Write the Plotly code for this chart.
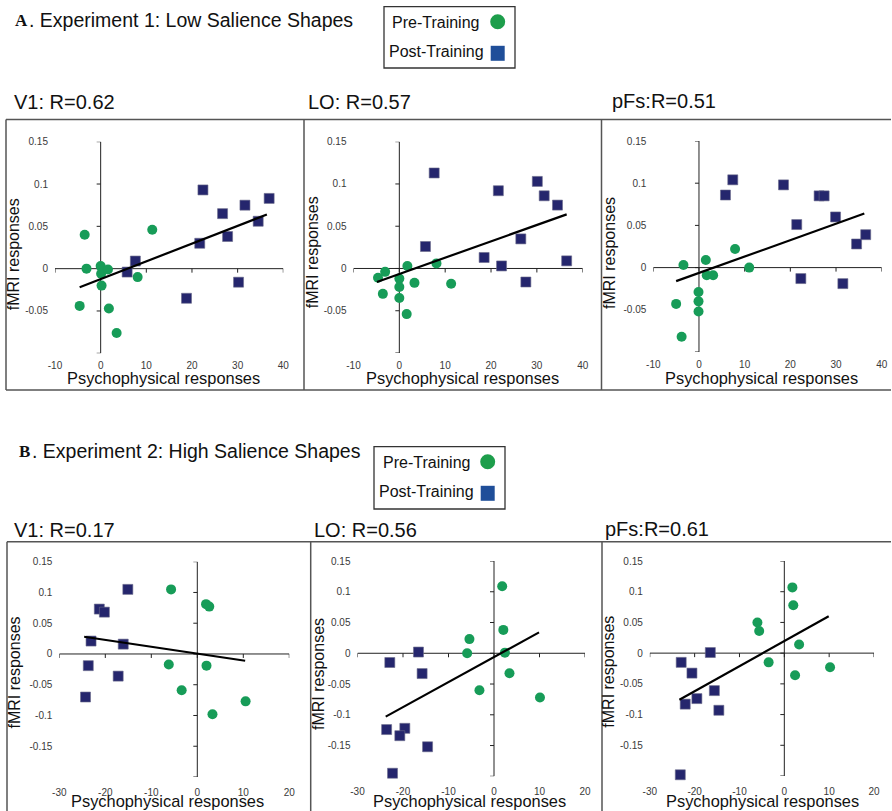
import plotly.graph_objects as go

W, H = 892, 811

# ---------------- data ----------------
# Experiment 1 (low salience)
a_x_ticks = [-10, 0, 10, 20, 30, 40]
a_x_ticklabels = ["-10", "0", "10", "20", "30", "40"]
a_y_ticks = [-0.1, -0.05, 0, 0.05, 0.1, 0.15]
a_y_ticklabels = ["", "-0.05", "0", "0.05", "0.1", "0.15"]

a_v1_pre_x = [-3.5, -4.6, -3.1, 0.0, 0.1, 1.6, 0.2, 1.8, 3.5, 8.1, 11.3]
a_v1_pre_y = [0.040, -0.044, 0.000, 0.003, -0.006, -0.001, -0.020, -0.047, -0.076, -0.010, 0.046]
a_v1_post_x = [5.8, 7.6, 22.4, 21.7, 26.7, 27.8, 31.6, 34.5, 36.9, 30.2, 18.8]
a_v1_post_y = [-0.004, 0.009, 0.093, 0.030, 0.065, 0.038, 0.075, 0.056, 0.083, -0.016, -0.035]
a_v1_fit_x = [-4.6, 36.4]
a_v1_fit_y = [-0.022, 0.064]

a_lo_pre_x = [-4.65, -3.1, -3.6, 0.0, 0.0, 0.0, 1.75, 1.6, 3.3, 8.1, 11.3]
a_lo_pre_y = [-0.011, -0.004, -0.030, -0.012, -0.022, -0.035, 0.003, -0.054, -0.017, 0.006, -0.018]
a_lo_post_x = [5.7, 7.6, 18.5, 21.6, 22.3, 26.5, 27.6, 30.1, 31.6, 34.5, 36.5]
a_lo_post_y = [0.026, 0.113, 0.013, 0.092, 0.003, 0.035, -0.016, 0.103, 0.086, 0.075, 0.009]
a_lo_fit_x = [-4.9, 36.5]
a_lo_fit_y = [-0.016, 0.064]

a_pfs_pre_x = [-3.4, -5.0, -3.8, -0.1, -0.1, -0.1, 1.5, 1.7, 3.1, 7.9, 11.0]
a_pfs_pre_y = [0.003, -0.043, -0.082, -0.029, -0.040, -0.052, 0.009, -0.009, -0.009, 0.022, 0.000]
a_pfs_post_x = [5.8, 7.4, 18.5, 21.4, 22.3, 26.3, 27.4, 29.9, 31.5, 34.5, 36.5]
a_pfs_post_y = [0.086, 0.104, 0.098, 0.051, -0.013, 0.085, 0.085, 0.060, -0.019, 0.028, 0.039]
a_pfs_fit_x = [-5.0, 36.2]
a_pfs_fit_y = [-0.016, 0.064]

# Experiment 2 (high salience)
b_x_ticks = [-30, -20, -10, 0, 10, 20]
b_x_ticklabels = ["-30", "-20", "-10", "0", "10", "20"]
b_y_ticks = [-0.2, -0.15, -0.1, -0.05, 0, 0.05, 0.1, 0.15]
b_y_ticklabels = ["", "-0.15", "-0.1", "-0.05", "0", "0.05", "0.1", "0.15"]

b_v1_pre_x = [-5.7, 1.9, 2.6, -6.2, 2.0, -3.4, 3.3, 10.5]
b_v1_pre_y = [0.105, 0.081, 0.077, -0.017, -0.019, -0.059, -0.098, -0.077]
b_v1_post_x = [-15.1, -21.3, -20.2, -23.1, -16.1, -23.7, -17.2, -24.3]
b_v1_post_y = [0.105, 0.073, 0.068, 0.021, 0.016, -0.019, -0.036, -0.070]
b_v1_fit_x = [-24.6, 10.4]
b_v1_fit_y = [0.028, -0.011]

b_lo_pre_x = [1.8, 2.05, -5.4, -5.9, 2.4, 3.4, -3.2, 10.1]
b_lo_pre_y = [0.109, 0.038, 0.023, 0.000, 0.001, -0.0325, -0.060, -0.072]
b_lo_post_x = [-16.6, -22.9, -15.8, -23.6, -19.6, -20.7, -14.6, -22.3]
b_lo_post_y = [0.002, -0.015, -0.033, -0.124, -0.122, -0.134, -0.152, -0.195]
b_lo_fit_x = [-23.8, 9.9]
b_lo_fit_y = [-0.103, 0.034]

b_pfs_pre_x = [1.8, 2.0, -6.0, -5.6, 3.3, -3.5, 2.4, 10.2]
b_pfs_pre_y = [0.107, 0.078, 0.050, 0.036, 0.014, -0.015, -0.036, -0.023]
b_pfs_post_x = [-16.5, -23.0, -20.6, -15.6, -19.5, -22.1, -14.6, -23.2]
b_pfs_post_y = [0.001, -0.015, -0.0325, -0.061, -0.074, -0.083, -0.093, -0.198]
b_pfs_fit_x = [-23.4, 9.9]
b_pfs_fit_y = [-0.076, 0.060]

panel_titles = ["V1: R=0.62", "LO: R=0.57", "pFs:R=0.51",
                "V1: R=0.17", "LO: R=0.56", "pFs:R=0.61"]
section_letters = ["A", "B"]
section_titles = [". Experiment 1: Low Salience Shapes", ". Experiment 2: High Salience Shapes"]
legend_labels = ["Pre-Training", "Post-Training"]
x_title = "Psychophysical responses"
y_title = "fMRI responses"

# ---------------- styling / geometry ----------------
GREEN = "#179c58"
NAVY = "#25266d"
LEG_GREEN = "#1d9e4b"
LEG_BLUE = "#1f4e99"
SANS = "Liberation Sans, Arial, sans-serif"
SERIF = "Liberation Serif, Times New Roman, serif"
TXT = "#111111"
TICKC = "#3a3a3a"
BORDER = "#555555"

# plot area in pixels: left, right, top, bottom; title pos; y-title pos; x-title pos
geom = [
    dict(L=55.0, R=283.3, T=141.7, B=353.3, tx=11.7, ty=101.7, yx=13.3, yy=254, xx=163, xy=378),
    dict(L=353.5, R=582.7, T=141.7, B=353.0, tx=306, ty=101.7, yx=313.3, yy=252, xx=462.5, xy=378),
    dict(L=653.3, R=881.7, T=141.0, B=352.0, tx=610, ty=100.7, yx=609, yy=253, xx=761, xy=378),
    dict(L=59.3, R=289.3, T=561.7, B=777.0, tx=11.7, ty=530, yx=14, yy=672.5, xx=167.5, xy=801),
    dict(L=357.5, R=585.0, T=561.0, B=776.3, tx=311.7, ty=530, yx=318, yy=674, xx=469, xy=801),
    dict(L=649.8, R=874.0, T=561.0, B=776.0, tx=603, ty=529.3, yx=609, yy=671.7, xx=762, xy=801),
]

panels = [
    (a_v1_pre_x, a_v1_pre_y, a_v1_post_x, a_v1_post_y, a_v1_fit_x, a_v1_fit_y, "a"),
    (a_lo_pre_x, a_lo_pre_y, a_lo_post_x, a_lo_post_y, a_lo_fit_x, a_lo_fit_y, "a"),
    (a_pfs_pre_x, a_pfs_pre_y, a_pfs_post_x, a_pfs_post_y, a_pfs_fit_x, a_pfs_fit_y, "a"),
    (b_v1_pre_x, b_v1_pre_y, b_v1_post_x, b_v1_post_y, b_v1_fit_x, b_v1_fit_y, "b"),
    (b_lo_pre_x, b_lo_pre_y, b_lo_post_x, b_lo_post_y, b_lo_fit_x, b_lo_fit_y, "b"),
    (b_pfs_pre_x, b_pfs_pre_y, b_pfs_post_x, b_pfs_post_y, b_pfs_fit_x, b_pfs_fit_y, "b"),
]


def fx(p):
    return p / W


def fy(p):
    return 1 - p / H


fig = go.Figure()
shapes = []
annotations = []
layout_axes = {}

for i, (prx, pry, pox, poy, fitx, fity, exp) in enumerate(panels):
    n = i + 1
    xs = "x" if n == 1 else f"x{n}"
    ys = "y" if n == 1 else f"y{n}"
    g = geom[i]
    if exp == "a":
        xt, xtl, yt, ytl = a_x_ticks, a_x_ticklabels, a_y_ticks, a_y_ticklabels
    else:
        xt, xtl, yt, ytl = b_x_ticks, b_x_ticklabels, b_y_ticks, b_y_ticklabels

    fig.add_trace(go.Scatter(x=prx, y=pry, mode="markers", xaxis=xs, yaxis=ys,
                             marker=dict(symbol="circle", size=10, color=GREEN),
                             cliponaxis=False, showlegend=False, hoverinfo="x+y"))
    fig.add_trace(go.Scatter(x=pox, y=poy, mode="markers", xaxis=xs, yaxis=ys,
                             marker=dict(symbol="square", size=10, color=NAVY,
                                         line=dict(color="#6a6a8a", width=0.6)),
                             cliponaxis=False, showlegend=False, hoverinfo="x+y"))
    fig.add_trace(go.Scatter(x=fitx, y=fity, mode="lines", xaxis=xs, yaxis=ys,
                             line=dict(color="black", width=2.2),
                             cliponaxis=False, showlegend=False, hoverinfo="skip"))

    xa = "xaxis" if n == 1 else f"xaxis{n}"
    ya = "yaxis" if n == 1 else f"yaxis{n}"
    layout_axes[xa] = dict(domain=[fx(g["L"]), fx(g["R"])], range=[xt[0], xt[-1]],
                           anchor=ys, showline=False, showgrid=False, zeroline=False,
                           automargin=False,
                           tickmode="array", tickvals=xt, ticktext=xtl, ticks="",
                           ticklabelstandoff=5 if exp == "a" else 8,
                           tickfont=dict(family=SANS, size=10, color=TICKC), fixedrange=True)
    layout_axes[ya] = dict(domain=[fy(g["B"]), fy(g["T"])], range=[yt[0], yt[-1]],
                           anchor=xs, showline=False, showgrid=False, zeroline=False,
                           automargin=False,
                           tickmode="array", tickvals=yt, ticktext=ytl, ticks="",
                           ticklabelstandoff=6,
                           tickfont=dict(family=SANS, size=10, color=TICKC), fixedrange=True)

    # crossing axes at zero
    shapes.append(dict(type="line", xref=xs, yref=ys, x0=xt[0], x1=xt[-1], y0=0, y1=0,
                       line=dict(color="#222222", width=1), layer="below"))
    shapes.append(dict(type="line", xref=xs, yref=ys, x0=0, x1=0, y0=yt[0], y1=yt[-1],
                       line=dict(color="#222222", width=1), layer="below"))
    for t in xt:
        shapes.append(dict(type="line", xref=xs, yref=ys, ysizemode="pixel", yanchor=0,
                           x0=t, x1=t, y0=0, y1=-4,
                           line=dict(color="#222222", width=1), layer="below"))
    for t in yt:
        shapes.append(dict(type="line", xref=xs, yref=ys, xsizemode="pixel", xanchor=0,
                           x0=0, x1=-4, y0=t, y1=t,
                           line=dict(color="#222222", width=1), layer="below"))

    # titles
    annotations.append(dict(text=panel_titles[i], xref="paper", yref="paper",
                            x=fx(g["tx"]), y=fy(g["ty"]), xanchor="left", yanchor="middle",
                            showarrow=False, font=dict(family=SANS, size=20, color=TXT)))
    annotations.append(dict(text=x_title, xref="paper", yref="paper",
                            x=fx(g["xx"]), y=fy(g["xy"]), xanchor="center", yanchor="middle",
                            showarrow=False, font=dict(family=SANS, size=16.4, color=TXT)))
    annotations.append(dict(text=y_title, xref="paper", yref="paper", textangle=-90,
                            x=fx(g["yx"]), y=fy(g["yy"]), xanchor="center", yanchor="middle",
                            showarrow=False, font=dict(family=SANS, size=16, color=TXT)))

# panel frames
def pline(x0, y0, x1, y1):
    shapes.append(dict(type="line", xref="paper", yref="paper",
                       x0=fx(x0), x1=fx(x1), y0=fy(y0), y1=fy(y1),
                       line=dict(color=BORDER, width=1.5)))

pline(6, 119.5, 891, 119.5)
pline(6, 390, 891, 390)
for xv in (6, 304, 601.5):
    pline(xv, 119.5, xv, 390)
pline(7, 541.7, 891, 541.7)
for xv in (7, 310.7, 602):
    pline(xv, 541.7, xv, 811)

# section titles
sec_geom = [dict(lx=13, tx=26.5, y=19.6), dict(lx=17, tx=29.5, y=450.7)]
for k in range(2):
    s = sec_geom[k]
    annotations.append(dict(text="<b>" + section_letters[k] + "</b>", xref="paper", yref="paper",
                            x=fx(s["lx"]), y=fy(s["y"] + 0.5), xanchor="left", yanchor="middle",
                            showarrow=False, font=dict(family=SERIF, size=17, color=TXT)))
    annotations.append(dict(text=section_titles[k], xref="paper", yref="paper",
                            x=fx(s["tx"]), y=fy(s["y"]), xanchor="left", yanchor="middle",
                            showarrow=False, font=dict(family=SANS, size=19.5, color=TXT)))

# legends (drawn manually: text left, symbol right)
leg_geom = [
    dict(bx0=384, bx1=515, by0=6.7, by1=68, t1x=390, t1y=22.7, t2x=387, t2y=51.7,
         cx=497.7, cy=21.7, sx=497.7, sy=53.3),
    dict(bx0=374, bx1=505, by0=446.7, by1=509, t1x=380.7, t1y=462.7, t2x=377, t2y=491.7,
         cx=487.7, cy=461.7, sx=487.7, sy=493.3),
]
for lg in leg_geom:
    shapes.append(dict(type="rect", xref="paper", yref="paper",
                       x0=fx(lg["bx0"]), x1=fx(lg["bx1"]), y0=fy(lg["by1"]), y1=fy(lg["by0"]),
                       line=dict(color="#333333", width=1.3), fillcolor="white"))
    r = 7.5
    shapes.append(dict(type="circle", xref="paper", yref="paper",
                       x0=fx(lg["cx"] - r), x1=fx(lg["cx"] + r),
                       y0=fy(lg["cy"] + r), y1=fy(lg["cy"] - r),
                       line=dict(width=0), fillcolor=LEG_GREEN))
    shapes.append(dict(type="rect", xref="paper", yref="paper",
                       x0=fx(lg["sx"] - 7), x1=fx(lg["sx"] + 7),
                       y0=fy(lg["sy"] + 7.5), y1=fy(lg["sy"] - 7.5),
                       line=dict(width=0), fillcolor=LEG_BLUE))
    annotations.append(dict(text=legend_labels[0], xref="paper", yref="paper",
                            x=fx(lg["t1x"]), y=fy(lg["t1y"]), xanchor="left", yanchor="middle",
                            showarrow=False, font=dict(family=SANS, size=16, color=TXT)))
    annotations.append(dict(text=legend_labels[1], xref="paper", yref="paper",
                            x=fx(lg["t2x"]), y=fy(lg["t2y"]), xanchor="left", yanchor="middle",
                            showarrow=False, font=dict(family=SANS, size=16, color=TXT)))

fig.update_layout(width=W, height=H, autosize=False,
                  margin=dict(l=0, r=0, t=0, b=0, pad=0, autoexpand=False),
                  paper_bgcolor="white", plot_bgcolor="white",
                  showlegend=False, shapes=shapes, annotations=annotations,
                  font=dict(family=SANS, color=TXT), **layout_axes)

page_fix = ("document.documentElement.style.margin='0';"
            "document.documentElement.style.overflow='hidden';"
            "document.body.style.margin='0';"
            "document.body.style.padding='0';"
            "document.body.style.overflow='hidden';")

fig.write_html("out.html", config=dict(displayModeBar=False, responsive=False),
               post_script=page_fix)
